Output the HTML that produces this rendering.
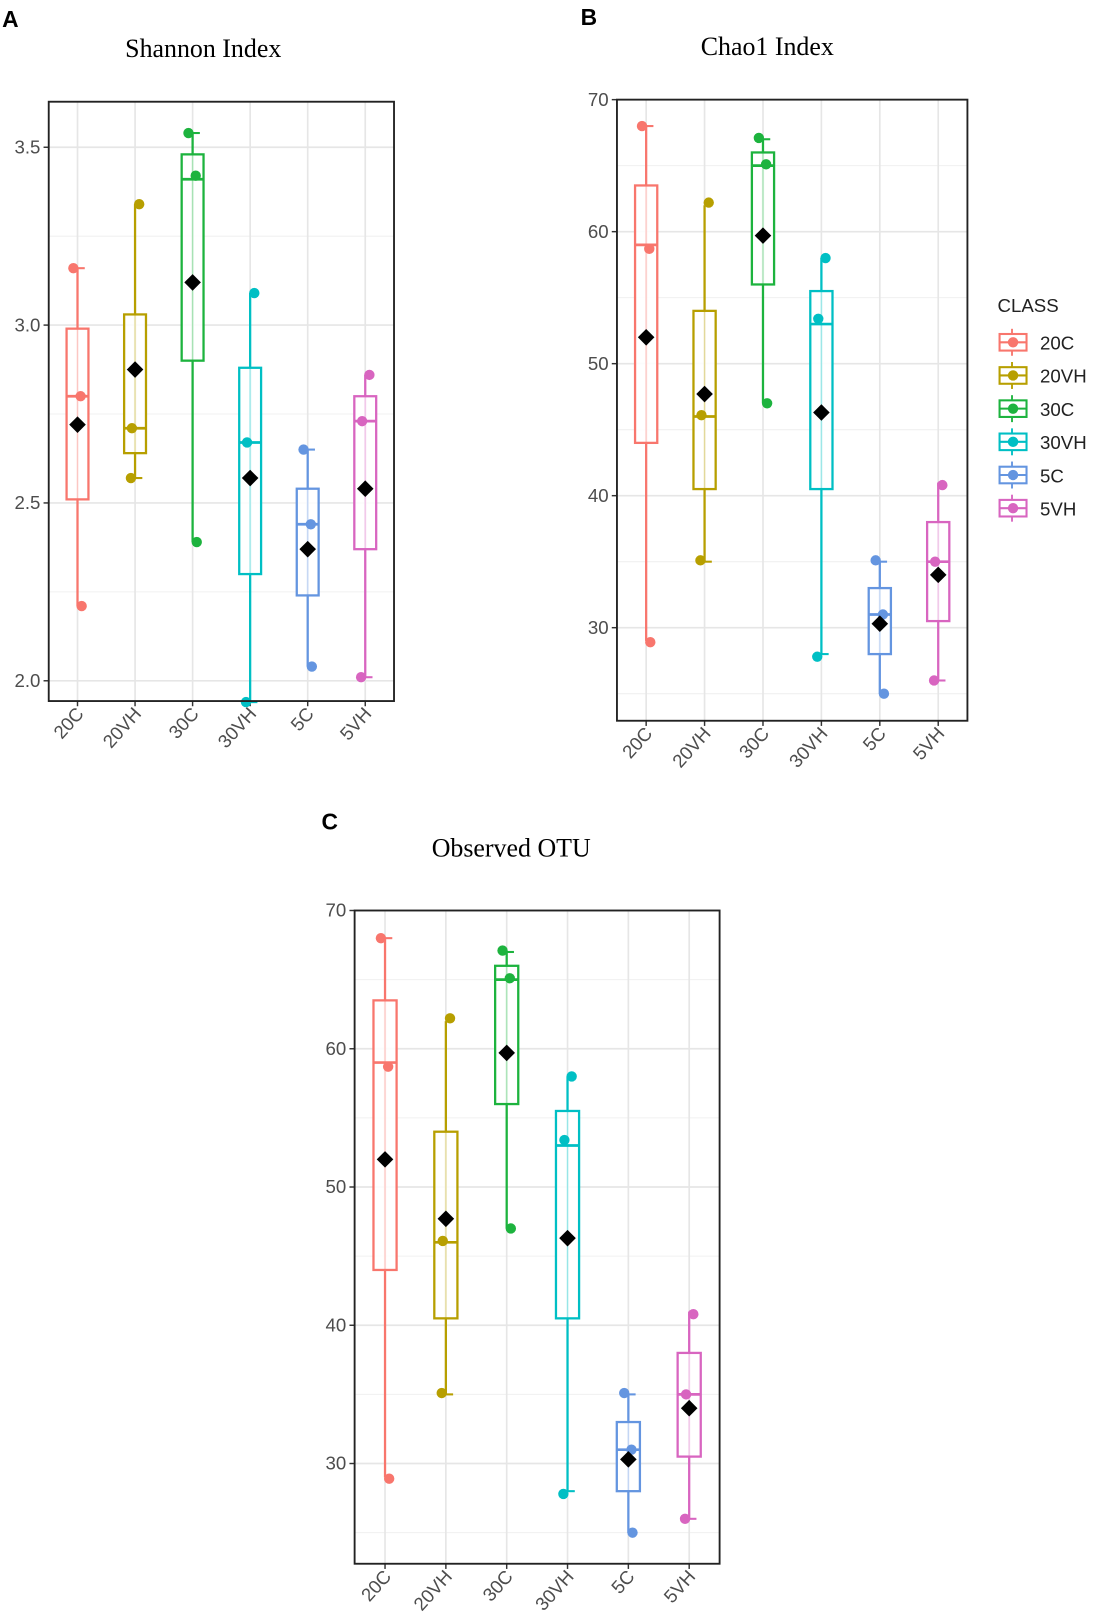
<!DOCTYPE html>
<html><head><meta charset="utf-8"><style>
html,body{margin:0;padding:0;background:#fff;}
svg{display:block;}
text{font-family:"Liberation Sans",sans-serif;}
</style></head><body>
<svg id="fig" width="1096" height="1624" viewBox="0 0 1057 1566">
<text x="2" y="26" font-size="22" font-weight="bold">A</text>
<text x="560" y="24" font-size="22" font-weight="bold">B</text>
<text x="310" y="800" font-size="22" font-weight="bold">C</text>
<text x="196" y="55" font-size="25" text-anchor="middle" style="font-family:'Liberation Serif',serif">Shannon Index</text>
<text x="740" y="53" font-size="25" text-anchor="middle" style="font-family:'Liberation Serif',serif">Chao1 Index</text>
<text x="493" y="826" font-size="25" text-anchor="middle" style="font-family:'Liberation Serif',serif">Observed OTU</text>
<g id="legend"></g>
</svg>
<script>
const categories = ["20C","20VH","30C","30VH","5C","5VH"];
const colors = ["#F8766D","#B79F00","#1DB33E","#00BFC4","#6495E0","#D865C0"];
// Shannon
const shMin = [2.21,2.57,2.39,1.94,2.04,2.01];
const shQ1  = [2.51,2.64,2.90,2.30,2.24,2.37];
const shMed = [2.80,2.71,3.41,2.67,2.44,2.73];
const shQ3  = [2.99,3.03,3.48,2.88,2.54,2.80];
const shMax = [3.16,3.34,3.54,3.09,2.65,2.86];
const shMean= [2.72,2.875,3.12,2.57,2.37,2.54];
const shPts = [[3.16,2.80,2.21],[3.34,2.71,2.57],[3.54,3.42,2.39],[3.09,2.67,1.94],[2.65,2.44,2.04],[2.86,2.73,2.01]];
const shTicks = [2.0,2.5,3.0,3.5];
// Chao1 / Observed OTU
const chMin = [29,35,47,28,25,26];
const chQ1  = [44,40.5,56,40.5,28,30.5];
const chMed = [59,46,65,53,31,35];
const chQ3  = [63.5,54,66,55.5,33,38];
const chMax = [68,62,67,58,35,41];
const chMean= [52,47.7,59.7,46.3,30.3,34];
const chPts = [[68,58.7,28.9],[62.2,46.1,35.1],[67.1,65.1,47],[58,53.4,27.8],[35.1,31,25],[40.8,35,26]];
const chTicks = [30,40,50,60,70];

const NS="http://www.w3.org/2000/svg";
const svg=document.getElementById('fig');
function mk(tag,attrs,parent){const e=document.createElementNS(NS,tag);for(const k in attrs)e.setAttribute(k,attrs[k]);(parent||svg).appendChild(e);return e;}

function panel(id,L,T,R,B,dom,ticks,minorStep,mins,q1,med,q3,maxs,means,pts){
  const g=mk('g',{});
  
  
  const y=v=>B-(v-dom[0])/(dom[1]-dom[0])*(B-T);
  const step=(R-L)/categories.length;
  const x=i=>L+step*(i+0.5);
  for(let v=ticks[0]-minorStep;v<=dom[1];v+=minorStep*2){ if(v>dom[0]&&v<dom[1]) mk('line',{x1:L,x2:R,y1:y(v),y2:y(v),stroke:'#f0f0f0','stroke-width':1},g);}
  ticks.forEach(t=>{
    mk('line',{x1:L,x2:R,y1:y(t),y2:y(t),stroke:'#e6e6e6','stroke-width':1.6},g);
    mk('line',{x1:L-5,x2:L,y1:y(t),y2:y(t),stroke:'#333','stroke-width':1.4},g);
    const tx=mk('text',{x:L-8,y:y(t)+6,'font-size':18,fill:'#4d4d4d','text-anchor':'end'},g);
    tx.textContent=(ticks[0]<10?t.toFixed(1):String(t));
    
    
  });
  categories.forEach((c,i)=>{
    mk('line',{x1:x(i),x2:x(i),y1:T,y2:B,stroke:'#e6e6e6','stroke-width':1.6},g);
    mk('line',{x1:x(i),x2:x(i),y1:B,y2:B+5,stroke:'#333','stroke-width':1.4},g);
    const tx=mk('text',{x:0,y:0,'font-size':18,fill:'#4d4d4d','text-anchor':'end',transform:`translate(${x(i)+7},${B+13}) rotate(-48)`},g);
    tx.textContent=c;
    
    
  });
  const bw=step*0.38;
  categories.forEach((c,i)=>{
    const col=colors[i], cx=x(i);
    const bg=mk('g',{},g);
    
    
    mk('line',{x1:cx,x2:cx,y1:y(maxs[i]),y2:y(mins[i]),stroke:col,'stroke-width':2.2},bg);
    mk('line',{x1:cx,x2:cx+7,y1:y(maxs[i]),y2:y(maxs[i]),stroke:col,'stroke-width':2},bg);
    mk('line',{x1:cx,x2:cx+7,y1:y(mins[i]),y2:y(mins[i]),stroke:col,'stroke-width':2},bg);
    mk('rect',{x:cx-bw/2,y:y(q3[i]),width:bw,height:y(q1[i])-y(q3[i]),fill:'#fff','fill-opacity':0.85,stroke:col,'stroke-width':2.2},bg);
    mk('line',{x1:cx,x2:cx,y1:y(q3[i]),y2:y(q1[i]),stroke:col,'stroke-width':1,'stroke-opacity':0.3},bg);
    mk('line',{x1:cx-bw/2,x2:cx+bw/2,y1:y(med[i]),y2:y(med[i]),stroke:col,'stroke-width':2.6},bg);
    pts[i].forEach((p,j)=>{
      const off=[-4,3,4][j]*(i%2?-1:1);
      const pc=mk('circle',{cx:cx+off,cy:y(p),r:5,fill:col},bg);
      
      
    });
    const my=y(means[i]);
    const d=mk('path',{d:`M${cx} ${my-8}L${cx+8} ${my}L${cx} ${my+8}L${cx-8} ${my}Z`,fill:'#000'},bg);
    
    
  });
  const fr=mk('rect',{x:L,y:T,width:R-L,height:B-T,fill:'none',stroke:'#222','stroke-width':1.8},g);
  
  
}
panel('shannon-panel',47,98,380,676,[1.943,3.628],shTicks,0.25,shMin,shQ1,shMed,shQ3,shMax,shMean,shPts);
panel('chao1-panel',595,96,933,695,[22.95,70],chTicks,5,chMin,chQ1,chMed,chQ3,chMax,chMean,chPts);
panel('observed-otu-panel',342,878,694,1508,[22.75,70],chTicks,5,chMin,chQ1,chMed,chQ3,chMax,chMean,chPts);

const lg=document.getElementById('legend');
const lt=mk('text',{x:962,y:301,'font-size':18,fill:'#222'},lg);
lt.textContent='CLASS';


categories.forEach((c,i)=>{
  const yy=330+i*32, col=colors[i];
  const e=mk('g',{},lg);
  
  
  mk('line',{x1:976,x2:976,y1:yy-13,y2:yy+13,stroke:col,'stroke-width':1.8},e);
  mk('rect',{x:964,y:yy-8,width:26,height:16,fill:'#fff',stroke:col,'stroke-width':2},e);
  mk('line',{x1:964,x2:990,y1:yy,y2:yy,stroke:col,'stroke-width':2},e);
  mk('circle',{cx:977,cy:yy,r:5,fill:col},e);
  const t=mk('text',{x:1003,y:yy+7,'font-size':18,fill:'#222'},e);
  t.textContent=c;
});
</script>
</body></html>
